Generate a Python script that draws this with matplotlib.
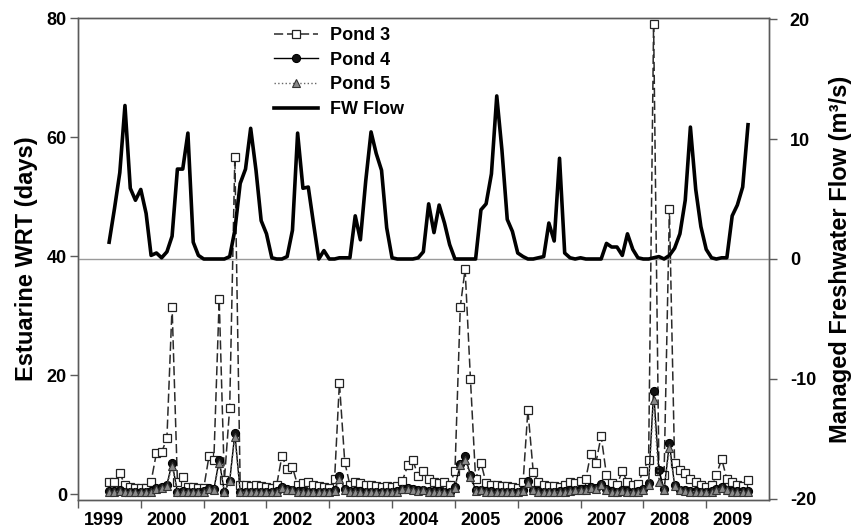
"""Estuarine water residence time (ponds 3-5) against managed freshwater flow."""

import matplotlib

matplotlib.use("Agg")
import matplotlib.pyplot as plt
import pandas as pd

# monthly values, July 1999 - September 2009
START_MONTH = "1999-07-01"

pond3_wrt = [
    2.1, 2.1, 3.5, 1.5, 1.2, 1.0, 1.0, 1.0, 2.1, 6.9, 7.0, 9.4,
    31.5, 2.1, 2.9, 1.2, 1.2, 1.0, 1.0, 6.4, 5.8, 32.7, 2.3, 14.5,
    56.7, 1.5, 1.5, 1.4, 1.5, 1.3, 1.2, 1.0, 1.5, 6.4, 4.2, 4.5,
    1.5, 1.8, 2.0, 1.6, 1.3, 1.2, 1.0, 2.5, 18.7, 5.4, 1.5, 2.0,
    1.8, 1.6, 1.5, 1.3, 1.2, 1.4, 1.2, 1.3, 2.2, 4.8, 5.7, 3.0,
    3.8, 2.5, 2.0, 1.8, 2.0, 1.5, 3.9, 31.5, 37.8, 19.3, 2.5, 5.3,
    1.8, 1.5, 1.6, 1.4, 1.3, 1.2, 1.0, 2.0, 14.1, 3.75, 2.0, 1.5,
    1.4, 1.3, 1.2, 1.5, 2.0, 1.8, 2.2, 2.6, 6.7, 5.3, 9.75, 3.2,
    1.8, 1.5, 3.9, 2.0, 1.5, 1.7, 3.9, 5.8, 79.0, 3.9, 3.2, 47.9,
    5.2, 4.1, 3.5, 2.5, 2.0, 1.5, 1.2, 1.5, 3.2, 5.9, 2.5, 2.0,
    1.5, 1.3, 2.3,
]

pond4_wrt = [
    0.5, 0.5, 0.6, 0.4, 0.4, 0.4, 0.4, 0.4, 0.5, 1.0, 1.2, 1.6,
    5.2, 0.4, 0.5, 0.4, 0.4, 0.4, 0.5, 1.0, 0.8, 5.7, 0.4, 2.2,
    10.2, 0.4, 0.4, 0.4, 0.4, 0.4, 0.4, 0.4, 0.5, 1.2, 0.8, 0.7,
    0.5, 0.5, 0.4, 0.4, 0.4, 0.4, 0.4, 0.6, 3.1, 0.8, 0.5, 0.5,
    0.5, 0.4, 0.4, 0.4, 0.4, 0.4, 0.4, 0.5, 0.9, 1.0, 0.8, 0.6,
    0.7, 0.5, 0.5, 0.5, 0.4, 0.4, 1.2, 5.0, 6.4, 3.2, 0.6, 0.7,
    0.5, 0.5, 0.4, 0.4, 0.4, 0.4, 0.4, 0.6, 2.2, 0.7, 0.5, 0.4,
    0.4, 0.4, 0.5, 0.5, 0.6, 0.7, 0.8, 0.8, 1.2, 1.0, 1.7, 0.8,
    0.5, 0.4, 0.6, 0.5, 0.4, 0.5, 0.8, 1.8, 17.3, 4.0, 0.8, 8.5,
    1.5, 0.7, 0.6, 0.5, 0.5, 0.4, 0.4, 0.5, 0.8, 1.2, 0.7, 0.5,
    0.5, 0.5, 0.5,
]

pond5_wrt = [
    0.4, 0.4, 0.5, 0.3, 0.3, 0.3, 0.3, 0.3, 0.4, 0.9, 1.0, 1.4,
    4.7, 0.3, 0.4, 0.3, 0.3, 0.3, 0.4, 0.9, 0.6, 5.2, 0.3, 2.2,
    9.6, 0.3, 0.3, 0.3, 0.3, 0.3, 0.3, 0.3, 0.4, 1.0, 0.6, 0.6,
    0.4, 0.4, 0.3, 0.3, 0.3, 0.3, 0.3, 0.5, 2.6, 0.6, 0.4, 0.4,
    0.4, 0.3, 0.3, 0.3, 0.3, 0.3, 0.3, 0.4, 0.8, 0.9, 0.7, 0.5,
    0.6, 0.4, 0.4, 0.4, 0.3, 0.3, 1.0, 4.8, 5.8, 2.8, 0.5, 0.6,
    0.4, 0.4, 0.3, 0.3, 0.3, 0.3, 0.3, 0.5, 1.8, 0.6, 0.4, 0.3,
    0.3, 0.3, 0.4, 0.4, 0.5, 0.6, 0.7, 0.7, 1.0, 0.9, 1.5, 0.7,
    0.4, 0.3, 0.5, 0.4, 0.3, 0.4, 0.7, 1.5, 15.8, 2.0, 0.7, 7.7,
    1.3, 0.6, 0.5, 0.4, 0.4, 0.3, 0.3, 0.4, 0.7, 1.0, 0.6, 0.4,
    0.4, 0.4, 0.4,
]

fw_flow = [
    1.4, 4.2, 7.2, 12.8, 5.9, 4.9, 5.8, 3.8, 0.3, 0.5, 0.1, 0.6,
    1.9, 7.5, 7.5, 10.5, 1.4, 0.3, 0.0, 0.0, 0.0, 0.0, 0.0, 0.2,
    2.4, 6.3, 7.5, 10.9, 7.4, 3.2, 2.1, 0.1, 0.0, 0.0, 0.2, 2.4,
    10.5, 5.9, 6.0, 3.0, 0.0, 0.7, 0.0, 0.0, 0.1, 0.1, 0.1, 3.6,
    1.6, 6.5, 10.6, 8.8, 7.4, 2.6, 0.1, 0.0, 0.0, 0.0, 0.0, 0.1,
    0.6, 4.6, 2.2, 4.5, 3.0, 1.2, 0.0, 0.0, 0.0, 0.0, 0.0, 4.1,
    4.6, 7.1, 13.6, 9.1, 3.3, 2.3, 0.5, 0.2, 0.0, 0.0, 0.1, 0.2,
    3.0, 1.5, 8.4, 0.5, 0.1, 0.0, 0.1, 0.0, 0.0, 0.0, 0.0, 1.3,
    1.0, 1.0, 0.3, 2.1, 0.8, 0.1, 0.0, 0.0, 0.1, 0.2, 0.0, 0.3,
    0.9, 2.1, 4.9, 11.0, 5.8, 2.7, 0.8, 0.1, 0.0, 0.1, 0.1, 3.6,
    4.5, 6.0, 11.2,
]

years = list(range(1999, 2010))
left_ticks = [0, 20, 40, 60, 80]
right_ticks = [-20, -10, 0, 10, 20]

SPINE = "#5a5a5a"


def main() -> None:
    plt.rcParams["font.family"] = ["Liberation Sans", "DejaVu Sans"]
    plt.rcParams["font.weight"] = "bold"
    plt.rcParams["axes.unicode_minus"] = False

    months = pd.date_range(START_MONTH, periods=len(fw_flow), freq="MS")

    fig = plt.figure(figsize=(8.62, 5.31), dpi=100)
    ax = fig.add_axes([0.0905, 0.0584, 0.8016, 0.9077])
    ax2 = ax.twinx()

    p3, = ax.plot(months, pond3_wrt, color="#2a2a2a", lw=1.1, dashes=(6, 2.5),
                  marker="s", ms=6.3, mfc="white", mec="#222222", mew=0.9,
                  label="Pond 3")
    p4, = ax.plot(months, pond4_wrt, color="black", lw=1.0,
                  marker="o", ms=5.8, mfc="#111111", mec="black", mew=0.8,
                  label="Pond 4")
    p5, = ax.plot(months, pond5_wrt, color="#666666", lw=1.0, ls=":",
                  marker="^", ms=5.8, mfc="#8a8a8a", mec="#333333", mew=0.8,
                  label="Pond 5")

    ax2.axhline(0, color="#9a9a9a", lw=1.0, zorder=1)
    fw, = ax2.plot(months, fw_flow, color="black", lw=2.6, label="FW Flow")

    ax.set_xlim(pd.Timestamp("1999-01-01"), pd.Timestamp("2010-01-01"))
    ax.set_ylim(-1, 80)
    ax2.set_ylim(-20.1, 20.1)

    # year ticks on Jan 1, year labels sit a little right of them
    year_starts = [pd.Timestamp(f"{y}-01-01") for y in years]
    label_spots = [pd.Timestamp(f"{y}-06-01") for y in years]
    ax.set_xticks(year_starts, labels=[""] * len(years))
    ax.set_xticks(label_spots, labels=[str(y) for y in years], minor=True)
    ax.tick_params(axis="x", which="major", direction="out", length=6,
                   width=1, color=SPINE)
    ax.tick_params(axis="x", which="minor", length=0, pad=9, labelsize=13)

    ax.set_yticks(left_ticks)
    ax2.set_yticks(right_ticks)
    ax.tick_params(axis="y", direction="out", length=6, width=1, color=SPINE,
                   pad=2, labelsize=13)
    ax2.tick_params(axis="y", direction="out", length=6, width=1, color=SPINE,
                    pad=9, labelsize=13)

    for a in (ax, ax2):
        for spine in a.spines.values():
            spine.set_color(SPINE)
            spine.set_linewidth(1.0)

    ax.set_ylabel("Estuarine WRT (days)", fontsize=17, fontweight="bold",
                  labelpad=6)
    ax2.set_ylabel("Managed Freshwater Flow (m³/s)", fontsize=17,
                   fontweight="bold", labelpad=9)

    ax2.legend([p3, p4, p5, fw], ["Pond 3", "Pond 4", "Pond 5", "FW Flow"],
               loc="upper left", bbox_to_anchor=(0.2836, 0.981),
               frameon=False, borderpad=0, borderaxespad=0,
               prop={"size": 13, "weight": "bold"},
               handlelength=2.45, handletextpad=0.65, labelspacing=0.42)

    fig.savefig("out.png", dpi=100)
    plt.close(fig)


if __name__ == "__main__":
    main()
